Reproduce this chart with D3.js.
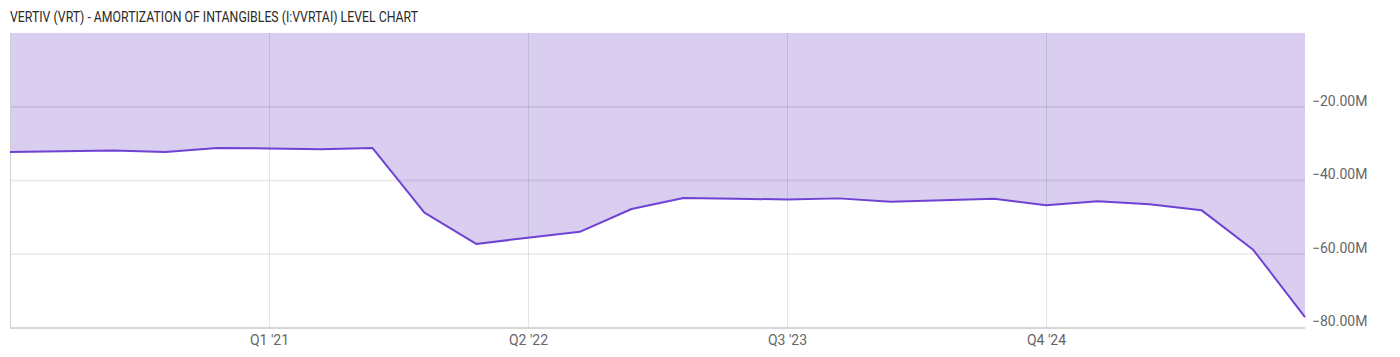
<!DOCTYPE html>
<html>
<head>
<meta charset="utf-8">
<script src="https://cdn.jsdelivr.net/npm/d3@7"></script>
<style>
    html, body { margin: 0; padding: 0; background: #fff; }
    text { font-family: Roboto, "Liberation Sans", sans-serif; }
</style>
</head>
<body>
<svg id="chart" width="1400" height="357"></svg>
<script>
// values (millions of USD)
var quarters = [
    "Q4 '19", "Q1 '20", "Q2 '20", "Q3 '20", "Q4 '20",
    "Q1 '21", "Q2 '21", "Q3 '21", "Q4 '21", "Q1 '22",
    "Q2 '22", "Q3 '22", "Q4 '22", "Q1 '23", "Q2 '23",
    "Q3 '23", "Q4 '23", "Q1 '24", "Q2 '24", "Q3 '24",
    "Q4 '24", "Q1 '25", "Q2 '25", "Q3 '25", "Q4 '25",
    "Q1 '26"
];
var amortization = [
    -32.4, -32.2, -32.0, -32.4, -31.3,
    -31.4, -31.6, -31.3, -48.9, -57.4,
    -55.7, -54.1, -47.9, -44.9, -45.1,
    -45.3, -45.0, -45.9, -45.5, -45.1,
    -46.9, -45.8, -46.6, -48.2, -59.0,
    -77.3
];
var tickQuarters = ["Q1 '21", "Q2 '22", "Q3 '23", "Q4 '24"];
var yTicks = [-20, -40, -60, -80];
var yDomain = [-80, 0];

var title = "VERTIV (VRT) - AMORTIZATION OF INTANGIBLES (I:VVRTAI) LEVEL CHART";

var plot = { left: 10, right: 1305, top: 33, bottom: 327 };

var svg = d3.select('#chart');

var x = d3.scalePoint()
    .domain(quarters)
    .range([plot.left, plot.right]);

var y = d3.scaleLinear()
    .domain(yDomain)
    .range([plot.bottom, plot.top]);

var series = quarters.map(function(q, i) {
    return { q: q, v: amortization[i] };
});

// title (the original uses a condensed face, so squeeze it to the same width)
svg.append('text')
    .attr('x', 10)
    .attr('y', 21.5)
    .attr('font-size', 14)
    .attr('fill', '#2a2a2a')
    .attr('textLength', 408)
    .attr('lengthAdjust', 'spacingAndGlyphs')
    .text(title);

// filled area between the line and the top (zero)
var area = d3.area()
    .x(function(d) { return x(d.q); })
    .y0(y(0))
    .y1(function(d) { return y(d.v); });

svg.append('path')
    .datum(series)
    .attr('d', area)
    .attr('fill', '#d9cdf0');

// grid lines, drawn over the fill so they darken it slightly
svg.append('g')
    .attr('class', 'y-grid')
    .selectAll('line')
    .data(yTicks.slice(0, 3))
    .enter()
    .append('line')
    .attr('x1', plot.left)
    .attr('x2', plot.right)
    .attr('y1', function(d) { return y(d) + 0.5; })
    .attr('y2', function(d) { return y(d) + 0.5; })
    .attr('stroke', 'rgba(0,0,0,0.07)')
    .attr('stroke-width', 2);

svg.append('g')
    .attr('class', 'x-grid')
    .selectAll('line')
    .data(tickQuarters)
    .enter()
    .append('line')
    .attr('x1', function(d) { return Math.round(x(d)) + 0.5; })
    .attr('x2', function(d) { return Math.round(x(d)) + 0.5; })
    .attr('y1', plot.top)
    .attr('y2', plot.bottom)
    .attr('stroke', 'rgba(0,0,0,0.1)')
    .attr('stroke-width', 1);

// frame: left edge and bottom axis line
svg.append('line')
    .attr('x1', plot.left + 0.5)
    .attr('x2', plot.left + 0.5)
    .attr('y1', plot.top)
    .attr('y2', plot.bottom)
    .attr('stroke', '#cfcfcf');

svg.append('line')
    .attr('x1', plot.left)
    .attr('x2', plot.right)
    .attr('y1', plot.bottom + 1)
    .attr('y2', plot.bottom + 1)
    .attr('stroke', '#d6d6d6')
    .attr('stroke-width', 2);

// the line itself
var line = d3.line()
    .x(function(d) { return x(d.q); })
    .y(function(d) { return y(d.v); });

svg.append('path')
    .datum(series)
    .attr('d', line)
    .attr('fill', 'none')
    .attr('stroke', '#6f42d3')
    .attr('stroke-width', 2)
    .attr('stroke-linejoin', 'round');

// y axis labels on the right
var yAxis = d3.axisRight(y)
    .tickValues(yTicks)
    .tickSize(0)
    .tickPadding(7)
    .tickFormat(function(d) { return d3.format('.2f')(d) + 'M'; });

var yAxisG = svg.append('g')
    .attr('transform', 'translate(' + plot.right + ',0)')
    .call(yAxis);

yAxisG.select('.domain').remove();
yAxisG.selectAll('text')
    .attr('font-size', 14)
    .attr('font-family', null)
    .attr('fill', '#666')
    .attr('dy', '-0.1em');

// x axis labels
var xAxis = d3.axisBottom(x)
    .tickValues(tickQuarters)
    .tickSize(0)
    .tickPadding(8);

var xAxisG = svg.append('g')
    .attr('transform', 'translate(0,' + plot.bottom + ')')
    .call(xAxis);

xAxisG.select('.domain').remove();
xAxisG.selectAll('text')
    .attr('font-size', 14)
    .attr('font-family', null)
    .attr('fill', '#666');
</script>
</body>
</html>
